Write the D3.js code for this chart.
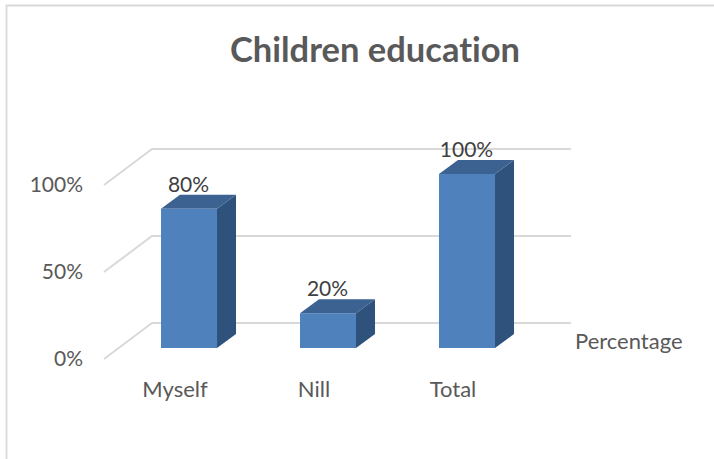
<!DOCTYPE html>
<html><head><meta charset="utf-8">
<script src="https://cdn.jsdelivr.net/npm/d3@7/dist/d3.min.js"></script>
<style>html,body{margin:0;padding:0;background:#fff}svg{display:block}text{font-family:Lato,"Open Sans",sans-serif;font-variant-ligatures:none}</style>
</head><body><svg id="c" width="714" height="459"></svg>
<script>
const categories = ["Myself", "Nill", "Total"];
const values = [80, 20, 100];
const valueLabels = ["80%", "20%", "100%"];
const yTicks = [0, 50, 100];
const seriesName = "Percentage";
const chartTitle = "Children education";

const svg = d3.select("#c");
const x = d3.scaleBand().domain(categories).range([119.5, 536.5]).paddingInner(0.597).paddingOuter(0.2985);
const yBar = d3.scaleLinear().domain([0, 100]).range([348, 174]);
const yWall = d3.scaleLinear().domain([0, 100]).range([323, 149]);
const dx = 19, dy = -14;
const wallLeft = 152, wallRight = 571, floorLeft = 104, floorDrop = 36;

// chart frame
svg.append("path").attr("d", "M6.5 459V5.5H714").attr("fill", "none").attr("stroke", "#d9d9d9").attr("stroke-width", 1.8);

svg.append("text").attr("x", 375).attr("y", 62).attr("text-anchor", "middle")
  .attr("font-size", 34.5).attr("font-weight", 700).attr("fill", "#595959").text(chartTitle);

// gridlines: floor-side segment then back wall
const grid = svg.append("g").attr("fill", "none").attr("stroke", "#d9d9d9").attr("stroke-width", 2);
grid.selectAll("path").data(yTicks).join("path")
  .attr("d", d => `M${floorLeft} ${yWall(d) + floorDrop}L${wallLeft} ${yWall(d)}H${wallRight}`);

// tick labels
svg.append("g").attr("font-size", 21).attr("fill", "#595959").attr("text-anchor", "end")
  .selectAll("text").data(yTicks).join("text")
  .attr("x", 83).attr("y", d => yWall(d) + floorDrop + 7).text(d => d + "%");

// 3D bars
const bars = svg.append("g").selectAll("g").data(categories).join("g");
bars.append("path").attr("fill", "#2f527c")
  .attr("d", (c, i) => {
    const r = x(c) + x.bandwidth(), t = yBar(values[i]), b = yBar(0);
    return `M${r} ${t}l${dx} ${dy}V${b + dy}L${r} ${b}Z`;
  });
bars.append("path").attr("fill", "#3b6291")
  .attr("d", (c, i) => {
    const l = x(c), r = l + x.bandwidth(), t = yBar(values[i]);
    return `M${l} ${t}l${dx} ${dy}H${r + dx}L${r} ${t}Z`;
  });
bars.append("rect").attr("fill", "#4f81bd")
  .attr("x", c => x(c)).attr("width", x.bandwidth())
  .attr("y", (c, i) => yBar(values[i])).attr("height", (c, i) => yBar(0) - yBar(values[i]));

// data labels
svg.append("g").attr("font-size", 21).attr("fill", "#404040").attr("text-anchor", "middle")
  .selectAll("text").data(categories).join("text")
  .attr("x", c => x(c) + x.bandwidth() / 2 - 0.5)
  .attr("y", (c, i) => yBar(values[i]) + dy - (values[i] === 100 ? 3 : 3))
  .text((c, i) => valueLabels[i]);

// category labels
svg.append("g").attr("font-size", 22).attr("fill", "#595959").attr("text-anchor", "middle")
  .selectAll("text").data(categories).join("text")
  .attr("x", c => x(c) + x.bandwidth() / 2 - 14).attr("y", 397).text(c => c);

svg.append("text").attr("x", 575).attr("y", 349).attr("font-size", 22).attr("fill", "#595959").text(seriesName);
</script></body></html>
